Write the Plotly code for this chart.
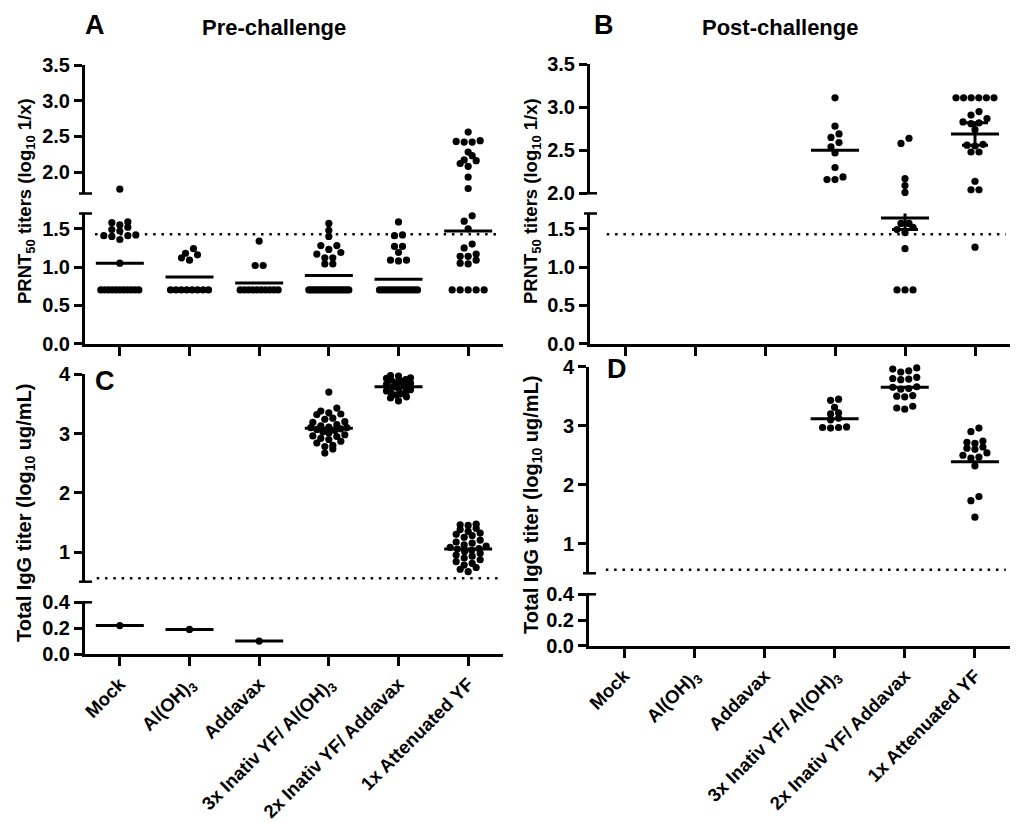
import plotly.graph_objects as go

W, H = 1016, 823

categories = ["Mock", "Al(OH)<sub>3</sub>", "Addavax",
              "3x Inativ YF/ Al(OH)<sub>3</sub>", "2x Inativ YF/ Addavax",
              "1x Attenuated YF"]

# ---------------- Panel A : PRNT50 titers, pre-challenge (log10 1/x)
a_mock = [0.70, 0.70, 0.70, 0.70, 0.70, 0.70, 0.70, 0.70, 0.70, 0.70, 0.70,
          1.05, 1.36, 1.40, 1.41, 1.41, 1.42, 1.47, 1.49, 1.52, 1.55, 1.58, 1.59, 1.76]
a_aloh = [0.70, 0.70, 0.70, 0.70, 0.70, 0.70, 0.70, 0.70,
          1.09, 1.12, 1.16, 1.18, 1.24]
a_adda = [0.70, 0.70, 0.70, 0.70, 0.70, 0.70, 0.70, 0.70, 0.70, 0.70,
          1.02, 1.02, 1.34]
a_inat3 = [0.70, 0.70, 0.70, 0.70, 0.70, 0.70, 0.70, 0.70, 0.70, 0.70, 0.70, 0.70,
           0.70, 0.70, 0.70, 0.70, 0.70, 0.70,
           1.04, 1.04, 1.12, 1.12, 1.17, 1.19, 1.23, 1.28, 1.28, 1.40, 1.48, 1.57]
a_inat2 = [0.70, 0.70, 0.70, 0.70, 0.70, 0.70, 0.70, 0.70, 0.70, 0.70, 0.70, 0.70,
           0.70, 0.70,
           1.08, 1.09, 1.09, 1.19, 1.27, 1.27, 1.41, 1.42, 1.59]
a_att = [0.70, 0.70, 0.70, 0.70, 0.70,
         1.04, 1.05, 1.09, 1.14, 1.14, 1.17, 1.25, 1.30, 1.50, 1.60, 1.67,
         1.77, 1.93, 2.08, 2.12, 2.16, 2.17, 2.23, 2.28, 2.42, 2.42, 2.43, 2.44, 2.56]
a_means = [1.05, 0.87, 0.79, 0.89, 0.84, 1.47]
a_sems = [None, None, None, None, None, None]

# ---------------- Panel B : PRNT50 titers, post-challenge
b_mock = []
b_aloh = []
b_adda = []
b_inat3 = [2.16, 2.16, 2.19, 2.30, 2.47, 2.54, 2.59, 2.65, 2.69, 2.78, 3.11]
b_inat2 = [0.70, 0.70, 0.70, 1.24, 1.45, 1.49, 1.52, 1.57, 1.57,
           2.01, 2.09, 2.17, 2.58, 2.64]
b_att = [1.26, 2.04, 2.04, 2.14, 2.48, 2.48, 2.55, 2.56, 2.57, 2.74, 2.81,
         2.82, 2.83, 2.87, 2.91, 2.95, 3.11, 3.11, 3.11, 3.11, 3.11, 3.11]
b_means = [None, None, None, 2.50, 1.64, 2.69]
b_sems = [None, None, None, None, 0.15, 0.13]

# ---------------- Panel C : Total IgG titer, pre-challenge (log10 ug/mL)
c_mock = [0.22]
c_aloh = [0.19]
c_adda = [0.10]
c_inat3 = [3.70, 3.43, 3.38, 3.35, 3.33, 3.32, 3.26, 3.24, 3.20, 3.19, 3.15,
           3.13, 3.11, 3.10, 3.10, 3.08, 3.07, 3.05, 3.03, 3.01, 2.98, 2.96,
           2.95, 2.92, 2.90, 2.87, 2.84, 2.80, 2.78, 2.74, 2.67]
c_inat2 = [4.02, 3.98, 3.97, 3.94, 3.93, 3.91, 3.90, 3.88, 3.86, 3.85, 3.83,
           3.80, 3.78, 3.76, 3.74, 3.72, 3.70, 3.68, 3.67, 3.65, 3.62, 3.60, 3.55]
c_att = [1.47, 1.46, 1.45, 1.40, 1.38, 1.35, 1.32, 1.30, 1.28, 1.25, 1.20,
         1.17, 1.15, 1.12, 1.10, 1.08, 1.06, 1.05, 1.03, 1.01, 0.98, 0.95,
         0.93, 0.90, 0.87, 0.84, 0.81, 0.78, 0.74, 0.71, 0.67]
c_means = [0.22, 0.19, 0.10, 3.09, 3.79, 1.05]
c_sems = [None, None, None, None, None, None]

# ---------------- Panel D : Total IgG titer, post-challenge
d_mock = []
d_aloh = []
d_adda = []
d_inat3 = [3.45, 3.43, 3.31, 3.22, 3.20, 3.13, 3.10, 2.98, 2.97, 2.97, 2.96]
d_inat2 = [3.98, 3.96, 3.93, 3.91, 3.82, 3.80, 3.79, 3.78, 3.66, 3.65, 3.63,
           3.62, 3.51, 3.50, 3.49, 3.33, 3.30, 3.28]
d_att = [2.96, 2.90, 2.74, 2.72, 2.70, 2.64, 2.62, 2.60, 2.54, 2.50, 2.47,
         2.45, 2.32, 1.80, 1.73, 1.45]
d_means = [None, None, None, 3.12, 3.65, 2.39]
d_sems = [None, None, None, None, None, None]

prnt_cutoff = 1.43
igg_cutoff = 0.56

# ---------------- panel geometry (pixels) and axis breaks
FONT = "Liberation Sans, Arial, sans-serif"
panels = [
    dict(groups=[a_mock, a_aloh, a_adda, a_inat3, a_inat2, a_att],
         means=a_means, sems=a_sems, ref=prnt_cutoff, ref_seg="lo", ref_x0=0.024,
         x_px=(85, 503), halfw=[19, 19, 19, 20, 19, 19],
         lo=dict(rng=(0.0, 1.7), px=(213.5, 343.5), ticks=[0.0, 0.5, 1.0, 1.5], fmt=".1f"),
         up=dict(rng=(1.7, 3.5), px=(65.0, 193.5), ticks=[2.0, 2.5, 3.0, 3.5], fmt=".1f"),
         xlabels=False),
    dict(groups=[b_mock, b_aloh, b_adda, b_inat3, b_inat2, b_att],
         means=b_means, sems=b_sems, ref=prnt_cutoff, ref_seg="lo", ref_x0=0.04,
         x_px=(590, 1010), halfw=[19, 19, 19, 19, 19, 19],
         lo=dict(rng=(0.0, 1.7), px=(213.5, 343.5), ticks=[0.0, 0.5, 1.0, 1.5], fmt=".1f"),
         up=dict(rng=(2.0, 3.5), px=(64.3, 193.3), ticks=[2.0, 2.5, 3.0, 3.5], fmt=".1f"),
         xlabels=False),
    dict(groups=[c_mock, c_aloh, c_adda, c_inat3, c_inat2, c_att],
         means=c_means, sems=c_sems, ref=igg_cutoff, ref_seg="up", ref_x0=0.028,
         x_px=(85, 503), halfw=[19, 19, 19, 18, 12, 18],
         lo=dict(rng=(0.0, 0.4), px=(602.3, 654.0), ticks=[0.0, 0.2, 0.4], fmt=".1f"),
         up=dict(rng=(0.5, 4.0), px=(374.3, 581.7), ticks=[1, 2, 3, 4], fmt="d"),
         xlabels=True),
    dict(groups=[d_mock, d_aloh, d_adda, d_inat3, d_inat2, d_att],
         means=d_means, sems=d_sems, ref=igg_cutoff, ref_seg="up", ref_x0=0.04,
         x_px=(589, 1010), halfw=[19, 19, 19, 19, 19, 19],
         lo=dict(rng=(0.0, 0.4), px=(594.3, 645.7), ticks=[0.0, 0.2, 0.4], fmt=".1f"),
         up=dict(rng=(0.5, 4.0), px=(366.7, 573.3), ticks=[1, 2, 3, 4], fmt="d"),
         xlabels=True),
]

DOT = 7.2      # marker diameter px
STEP = 8.0     # horizontal spacing px
MEAN_LEN = 48.0


def swarm_offsets(vals, ppu, xppu, maxhalf):
    """Row-based scatter-dot layout (GraphPad style); returns x offsets in category units."""
    idx = sorted(range(len(vals)), key=lambda i: vals[i])
    rows = []
    for i in idx:
        if rows and (vals[i] - vals[rows[-1][0]]) * ppu < 0.8 * DOT:
            rows[-1].append(i)
        else:
            rows.append([i])
    off = [0.0] * len(vals)
    for r in rows:
        n = len(r)
        step = STEP if n < 2 else min(STEP, 2 * maxhalf / (n - 1))
        slots = sorted([k - (n - 1) / 2 for k in range(n)], key=lambda s: (abs(s), s))
        for s, i in zip(slots, r):
            off[i] = s * step / xppu
    return off


def aid(n):
    return "" if n == 1 else str(n)


fig = go.Figure()
layout = {}
shapes = []

for p_i, P in enumerate(panels):
    x0p, x1p = P["x_px"]
    xdom = [x0p / W, x1p / W]
    xppu = (x1p - x0p) / 6.0
    up_start = P["up"]["rng"][0]
    for s_i, segname in enumerate(["lo", "up"]):
        S = P[segname]
        n = 2 * p_i + s_i + 1
        sid = aid(n)
        top, bot = S["px"]
        ydom = [1 - bot / H, 1 - top / H]
        ppu = (bot - top) / (S["rng"][1] - S["rng"][0])
        is_lo = segname == "lo"

        def in_seg(v):
            return (v < up_start) if is_lo else (v >= up_start)

        layout["xaxis" + sid] = dict(
            domain=xdom, range=[-0.5, 5.5], anchor="y" + sid,
            visible=is_lo, showline=True, linewidth=3, linecolor="black",
            ticks="outside", ticklen=9, tickwidth=2.5, tickcolor="black",
            tickmode="array", tickvals=list(range(6)), ticktext=categories,
            showticklabels=P["xlabels"], tickangle=-45, automargin=False,
            tickfont=dict(family=FONT, size=18.5, color="black", weight="bold"),
            showgrid=False, zeroline=False, fixedrange=True)
        layout["yaxis" + sid] = dict(
            domain=ydom, range=list(S["rng"]), anchor="x" + sid,
            showline=True, linewidth=3, linecolor="black",
            ticks="outside", ticklen=8, tickwidth=2.5, tickcolor="black",
            tickmode="array", tickvals=S["ticks"], tickformat=S["fmt"],
            automargin=False,
            tickfont=dict(family=FONT, size=20, color="black", weight="bold"),
            showgrid=False, zeroline=False, fixedrange=True)

        # empty trace so every axis segment is drawn
        fig.add_trace(go.Scatter(x=[None], y=[None], mode="markers",
                                 xaxis="x" + sid, yaxis="y" + sid,
                                 hoverinfo="skip", showlegend=False))

        # scatter dots
        xs, ys = [], []
        for g, vals in enumerate(P["groups"]):
            seg = [v for v in vals if in_seg(v)]
            offs = swarm_offsets(seg, ppu, xppu, P["halfw"][g])
            xs += [g + o for o in offs]
            ys += seg
        if xs:
            fig.add_trace(go.Scatter(
                x=xs, y=ys, mode="markers", xaxis="x" + sid, yaxis="y" + sid,
                marker=dict(size=DOT, color="black", line=dict(width=0)),
                cliponaxis=False, hoverinfo="skip", showlegend=False))

        # mean lines and SEM bars
        mx, my, ex, ey, ee = [], [], [], [], []
        for g, m in enumerate(P["means"]):
            if m is None or not in_seg(m):
                continue
            mx.append(g)
            my.append(m)
            if P["sems"][g] is not None:
                ex.append(g)
                ey.append(m)
                ee.append(P["sems"][g])
        if mx:
            fig.add_trace(go.Scatter(
                x=mx, y=my, mode="markers", xaxis="x" + sid, yaxis="y" + sid,
                marker=dict(symbol="line-ew", size=MEAN_LEN / 1.4, color="black",
                            line=dict(width=3, color="black")),
                cliponaxis=False, hoverinfo="skip", showlegend=False))
        if ex:
            fig.add_trace(go.Scatter(
                x=ex, y=ey, mode="markers", xaxis="x" + sid, yaxis="y" + sid,
                marker=dict(size=1, color="rgba(0,0,0,0)"),
                error_y=dict(type="data", array=ee, symmetric=True, color="black",
                             thickness=3, width=13),
                cliponaxis=True, hoverinfo="skip", showlegend=False))

        # dotted cut-off line
        if P["ref_seg"] == segname:
            shapes.append(dict(type="line", xref="x" + sid + " domain", yref="y" + sid,
                               x0=P["ref_x0"], x1=0.99, y0=P["ref"], y1=P["ref"],
                               line=dict(color="black", width=2.5, dash="2.5px,5.8px")))

        # break caps on the y axis
        cap_y = top if is_lo else bot
        shapes.append(dict(type="line", xref="paper", yref="paper",
                           x0=(x0p - 6) / W, x1=(x0p + 7) / W,
                           y0=1 - cap_y / H, y1=1 - cap_y / H,
                           line=dict(color="black", width=2.5)))


def txt(x, y, s, size, angle=0):
    return dict(x=x / W, y=1 - y / H, xref="paper", yref="paper", text=s,
                showarrow=False, xanchor="center", yanchor="middle", textangle=angle,
                font=dict(family=FONT, size=size, color="black", weight="bold"))


ytitle_prnt = "PRNT<sub>50</sub> titers (log<sub>10</sub> 1/x)"
ytitle_igg = "Total IgG titer (log<sub>10</sub> ug/mL)"

annotations = [
    txt(95, 25, "A", 27), txt(274, 28, "Pre-challenge", 22),
    txt(604, 25, "B", 27), txt(780, 28, "Post-challenge", 22),
    txt(105, 381, "C", 27), txt(617, 369, "D", 27),
    txt(26, 201, ytitle_prnt, 18.5, -90), txt(532, 201, ytitle_prnt, 18.5, -90),
    txt(25, 513, ytitle_igg, 20, -90), txt(533, 505, ytitle_igg, 20, -90),
]

fig.update_layout(
    width=W, height=H, autosize=False,
    margin=dict(l=0, r=0, t=0, b=0, pad=0, autoexpand=False),
    paper_bgcolor="white", plot_bgcolor="white",
    showlegend=False, shapes=shapes, annotations=annotations,
    font=dict(family=FONT, color="black"),
    **layout)

fig.write_html("out.html", config={"displayModeBar": False},
               post_script="document.body.style.margin='0px';document.body.style.padding='0px';")
